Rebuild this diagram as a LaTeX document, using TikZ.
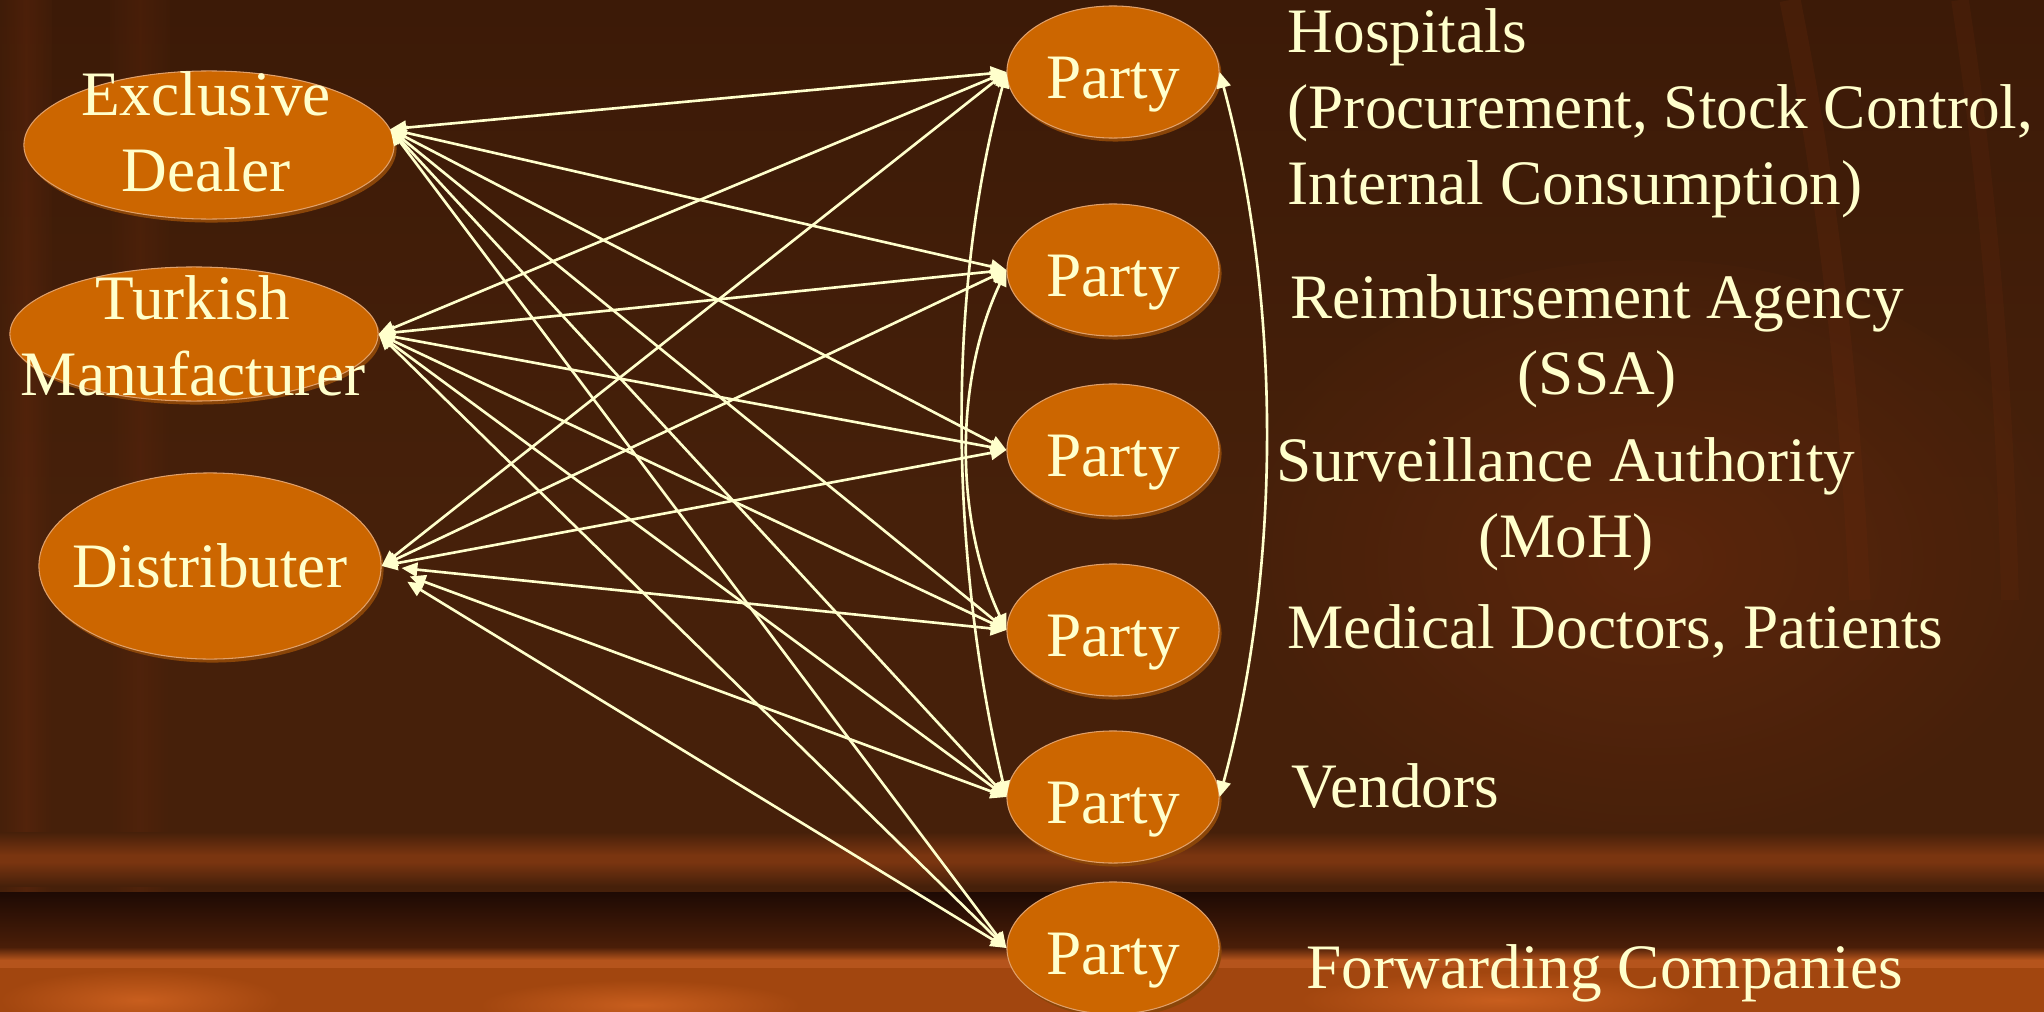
\documentclass[tikz,border=0pt]{standalone}
\usepackage{fontspec}
\setmainfont{Liberation Serif}
\usetikzlibrary{shapes.geometric,arrows.meta,shadows}
\definecolor{nodefill}{HTML}{CC6600}
\definecolor{rimlight}{HTML}{E0A06A}
\definecolor{rimdark}{HTML}{8A4508}
\definecolor{cream}{HTML}{FFFFCC}
\definecolor{bgbrown}{HTML}{46200A}
\definecolor{bgtop}{HTML}{3C1A07}
\definecolor{bgred}{HTML}{6A2A0E}
\definecolor{bgblack}{HTML}{1E0A04}
\definecolor{bgdeep}{HTML}{4A1E08}
\definecolor{glowa}{HTML}{7A3510}
\definecolor{glowb}{HTML}{A2460F}
\definecolor{glowc}{HTML}{B5541C}
\definecolor{glowlite}{HTML}{C85E1E}
\begin{document}
\begin{tikzpicture}[x=0.01cm,y=-0.01cm,
  >={Triangle[length=4.5pt,width=4pt]},
  blob/.style={ellipse, fill=nodefill, draw=rimlight, line width=0.3pt, inner sep=0pt,
    drop shadow={shadow xshift=0.025cm, shadow yshift=-0.035cm, fill=rimdark, opacity=1}},
  party/.style={blob, minimum width=2.12cm, minimum height=1.32cm, text=cream,
    text height=14.8pt, text depth=0pt, font=\fontsize{18}{21.6}\selectfont},
  lbl/.style={text=cream, font=\fontsize{18}{21.6}\selectfont, inner sep=0pt},
  link/.style={draw=cream, line width=0.75pt, <->}]
\useasboundingbox (0,0) rectangle (2044,1012);
\fill[bgbrown] (0,0) rectangle (2044,1012);
\shade[top color=bgtop, bottom color=bgbrown] (0,0) rectangle (2044,520);
\shade[inner color=bgred, outer color=bgbrown, opacity=0.6] (1650,560) ellipse (420 and 300);
\shade[left color=bgbrown, right color=bgred, opacity=0.35] (0,0) rectangle (26,892);
\shade[left color=bgred, right color=bgbrown, opacity=0.35] (26,0) rectangle (52,892);
\shade[left color=bgbrown, right color=bgred, opacity=0.25] (110,0) rectangle (140,892);
\shade[left color=bgred, right color=bgbrown, opacity=0.25] (140,0) rectangle (170,892);
\draw[bgred, line width=6pt, opacity=0.25] (1790,0) .. controls (1830,200) and (1850,400) .. (1860,600);
\draw[bgred, line width=5pt, opacity=0.2] (1960,0) .. controls (1990,200) and (2005,400) .. (2010,600);
\shade[top color=bgbrown, bottom color=glowa] (0,832) rectangle (2044,855);
\fill[glowa] (0,855) rectangle (2044,862);
\shade[top color=glowa, bottom color=bgbrown] (0,862) rectangle (2044,886);
\shade[top color=bgblack, bottom color=bgdeep] (0,892) rectangle (2044,947);
\shade[top color=bgdeep, bottom color=glowc] (0,947) rectangle (2044,960);
\fill[glowc] (0,960) rectangle (2044,968);
\fill[glowb] (0,968) rectangle (2044,1012);
\shade[inner color=glowlite, outer color=glowb] (140,1000) ellipse (140 and 30);
\shade[inner color=glowlite, outer color=glowb] (640,1005) ellipse (160 and 25);
\shade[inner color=glowlite, outer color=glowb] (1500,1000) ellipse (200 and 28);

\node[blob, minimum width=3.70cm, minimum height=1.48cm] (dealer) at (209,145) {};
\node[lbl, align=center] (dealertxt) at (206,132) {Exclusive\\Dealer};
\node[blob, minimum width=3.68cm, minimum height=1.34cm] (maker) at (194,334) {};
\node[lbl, align=center] (makertxt) at (193,336) {Turkish\\Manufacturer};
\node[blob, minimum width=3.42cm, minimum height=1.86cm] (dist) at (210,566) {};
\node[lbl] (disttxt) at (210,566) {Distributer};

\node[party] (p1) at (1113,72) {Party};
\node[party] (p2) at (1113,270) {Party};
\node[party] (p3) at (1113,450) {Party};
\node[party] (p4) at (1113,630) {Party};
\node[party] (p5) at (1113,797) {Party};
\node[party] (p6) at (1113,948) {Party};

\draw[link] (dealer.5) -- (p1.west);
\draw[link] (dealer.5) -- (p2.west);
\draw[link] (dealer.5) -- (p3.west);
\draw[link] (dealer.5) -- (p4.west);
\draw[link] (dealer.5) -- (p5.west);
\draw[link] (dealer.5) -- (p6.west);
\draw[link] (maker.east) -- (p1.west);
\draw[link] (maker.east) -- (p2.west);
\draw[link] (maker.east) -- (p3.west);
\draw[link] (maker.east) -- (p4.west);
\draw[link] (maker.east) -- (p5.west);
\draw[link] (maker.east) -- (p6.west);
\draw[link] (dist.east) -- (p1.west);
\draw[link] (dist.east) -- (p2.west);
\draw[link] (dist.east) -- (p3.west);
\draw[link, shorten <=0.2cm] (dist.east) -- (p4.west);
\draw[link, shorten <=0.3cm] (dist.east) -- (p5.west);
\draw[link, shorten <=0.3cm] (dist.east) -- (p6.west);

\draw[link] (p1.west) .. controls +(-62,228) and +(-55,-233) .. (p5.west);
\draw[link] (p2.west) .. controls +(-52,110) and +(-52,-110) .. (p4.west);
\draw[link] (p1.east) .. controls +(62,230) and +(62,-230) .. (p5.east);

\node[lbl, anchor=base west, align=left] (hosp) at (1287,204) {Hospitals\\(Procurement, Stock Control,\\Internal Consumption)};
\node[lbl, anchor=base, align=center] (ssa) at (1597,394) {Reimbursement Agency\\(SSA)};
\node[lbl, anchor=base, align=center] (moh) at (1566,557) {Surveillance Authority\\(MoH)};
\node[lbl, anchor=base west] (med) at (1287,648) {Medical Doctors, Patients};
\node[lbl, anchor=base west] (vend) at (1291,807) {Vendors};
\node[lbl, anchor=base west] (fwd) at (1306,988) {Forwarding Companies};
\end{tikzpicture}
\end{document}
